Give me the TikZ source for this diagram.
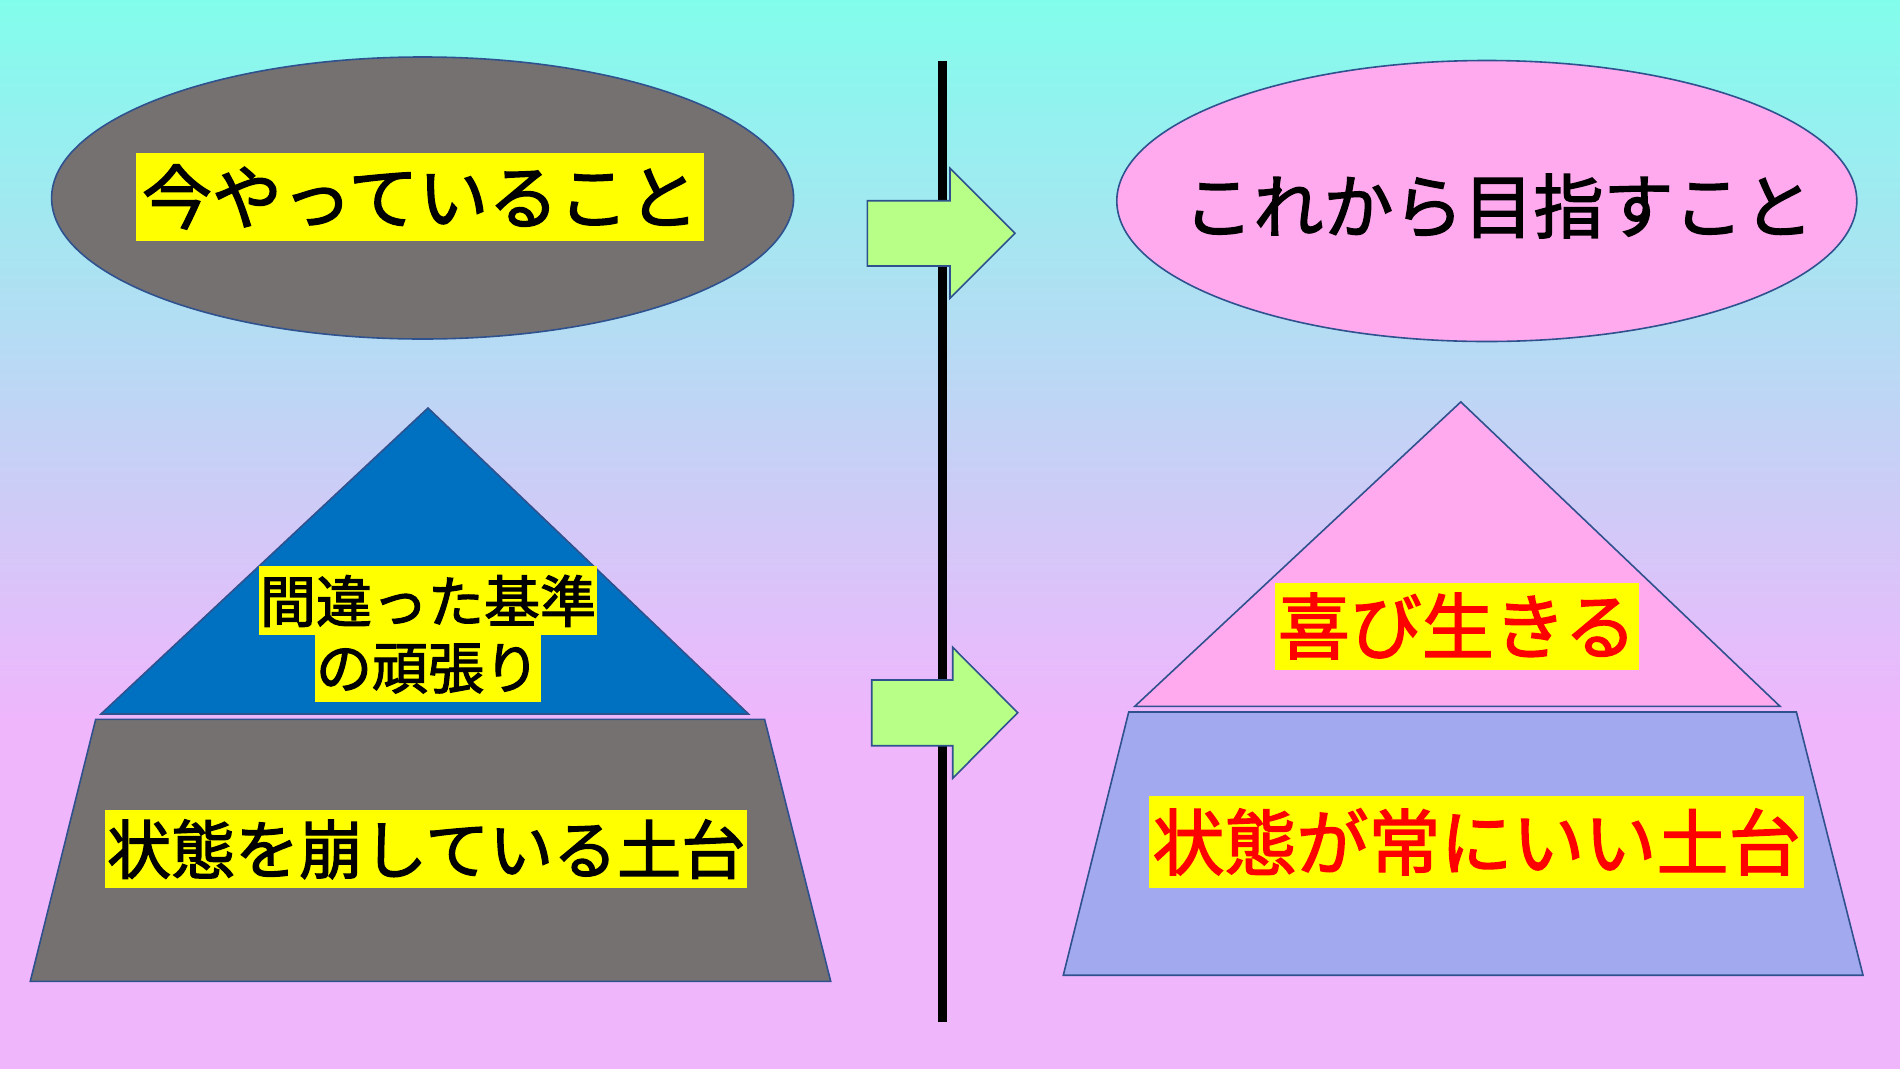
\documentclass[tikz,border=0pt]{standalone}
\usepackage{fontspec}
\newfontfamily\jp[FakeBold=2]{Noto Sans CJK JP}
\usetikzlibrary{shapes.geometric}
\definecolor{bgtop}{HTML}{82FDEC}
\definecolor{bgbot}{HTML}{EFB6FC}
\definecolor{edgeblue}{HTML}{2F528F}
\definecolor{darkgray1}{HTML}{767171}
\definecolor{topblue}{HTML}{0070C0}
\definecolor{pink1}{HTML}{FFAAEE}
\definecolor{lav1}{HTML}{A2A9EE}
\definecolor{arrowgreen}{HTML}{B8FF88}
\definecolor{hlyellow}{HTML}{FFFF00}
\definecolor{txtred}{HTML}{FF0000}
\tikzset{
  shapeedge/.style={draw=edgeblue, line width=1.6},
  bubble/.style={ellipse, shapeedge, inner sep=0},
  hl/.style={fill=hlyellow, inner sep=0},
  bigarrow/.style={shapeedge, fill=arrowgreen, line join=miter},
}
\begin{document}
\begin{tikzpicture}[x=1pt,y=-1pt]
\useasboundingbox (0,0) rectangle (1900,1069);
% background
\fill[top color=bgtop, bottom color=bgbot] (0,0) rectangle (1900,720);
\fill[bgbot] (0,719) rectangle (1900,1069);

% divider line
\coordinate (lt) at (942,61);
\coordinate (lb) at (942,1022);
\draw[line width=9, black] (lt) -- (lb);

% top ellipses
\node[bubble, fill=darkgray1, minimum width=742, minimum height=282] (nowE) at (422.6,198) {};
\node[hl, minimum width=568, minimum height=88, font=\jp\fontsize{70}{70}\selectfont] (nowT) at (420.2,196.9) {今やっていること};

\node[bubble, fill=pink1, minimum width=740, minimum height=281] (goalE) at (1486.8,201) {};
\node[inner sep=0, font=\jp\fontsize{70}{70}\selectfont] (goalT) at (1498.5,206) {これから目指すこと};

% arrows
\draw[bigarrow] (867.3,200.7) -- (950,200.7) -- (950,168.3) -- (1015,233.3) -- (950,298.3) -- (950,266) -- (867.3,266) -- cycle;
\draw[bigarrow] (871.7,680) -- (952.7,680) -- (952.7,647.3) -- (1017.7,712.7) -- (952.7,778.3) -- (952.7,745.7) -- (871.7,745.7) -- cycle;

% left pyramid
\draw[shapeedge, fill=topblue] (428,408) -- (748.5,714) -- (101,714) -- cycle;
\draw[shapeedge, fill=darkgray1] (95.7,719.3) -- (764.6,719.3) -- (830.7,981.3) -- (30.3,981.3) -- cycle;
\node[hl, minimum width=338.7, minimum height=69, font=\jp\fontsize{56}{56}\selectfont] (wrong1) at (428,600.9) {間違った基準};
\node[hl, minimum width=226, minimum height=66.6, font=\jp\fontsize{56}{56}\selectfont] (wrong2) at (428,668.6) {の頑張り};
\node[hl, minimum width=641.6, minimum height=77.8, font=\jp\fontsize{64}{64}\selectfont] (base1) at (426.2,849.3) {状態を崩している土台};

% right pyramid
\draw[shapeedge, fill=pink1] (1460.8,401.9) -- (1780,706.3) -- (1134.8,706.3) -- cycle;
\draw[shapeedge, fill=lav1] (1128.7,712) -- (1796.4,712) -- (1863,975.2) -- (1063.3,975.2) -- cycle;
\node[hl, text=txtred, minimum width=363.5, minimum height=87, font=\jp\fontsize{72}{72}\selectfont] (joy) at (1457.2,626) {喜び生きる};
\node[hl, text=txtred, minimum width=654.4, minimum height=91.8, font=\jp\fontsize{72}{72}\selectfont] (base2) at (1476.5,841.9) {状態が常にいい土台};
\end{tikzpicture}
\end{document}
